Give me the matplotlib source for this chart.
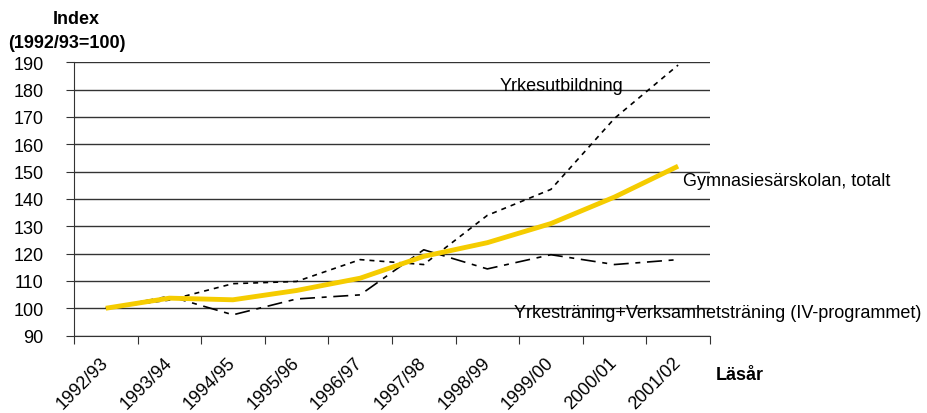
import matplotlib
matplotlib.use("Agg")
import matplotlib.pyplot as plt
from matplotlib.transforms import ScaledTranslation

plt.rcParams["font.family"] = ["Liberation Sans", "DejaVu Sans"]

years = ["1992/93", "1993/94", "1994/95", "1995/96", "1996/97",
         "1997/98", "1998/99", "1999/00", "2000/01", "2001/02"]
total = [100, 103.7, 103.1, 106.5, 111, 119, 124, 131, 140.7, 152]
yrkesutb = [100, 103, 109, 109.8, 117.8, 116, 134, 143.5, 169.5, 189]
iv_prog = [100, 104.4, 97.6, 103.4, 104.9, 121.4, 114.4, 119.6, 116, 117.8]

fig = plt.figure(figsize=(9.27, 4.14), dpi=100)
ax = fig.add_axes([0.0798, 0.187, 0.686, 0.66])

x = list(range(len(years)))
ax.plot(x, yrkesutb, color="black", lw=1.2, dashes=(3, 3))
ax.plot(x, iv_prog, color="black", lw=1.2, dashes=(9, 4, 3, 4))
ax.plot(x, total, color="#F5CC00", lw=3.5, solid_capstyle="butt")

ax.set_xlim(-0.5, len(years) - 0.5)
ax.set_ylim(90, 190)
ax.set_yticks(range(90, 191, 10))
ax.yaxis.grid(True, color="#333333", lw=1)
ax.set_axisbelow(True)
for s in ["top", "right"]:
    ax.spines[s].set_visible(False)
ax.spines["left"].set_color("#333333")
ax.spines["bottom"].set_color("#333333")

# tick marks between categories, labels at category centres
ax.set_xticks([i - 0.5 for i in range(len(years) + 1)], minor=False)
ax.set_xticklabels([])
ax.set_xticks(x, minor=True)
ax.set_xticklabels(years, minor=True, rotation=45, ha="right", va="center",
                   rotation_mode="anchor", fontsize=13)
offset = ScaledTranslation(7 / 100, 0, fig.dpi_scale_trans)
for lbl in ax.get_xticklabels(minor=True):
    lbl.set_transform(lbl.get_transform() + offset)
ax.tick_params(axis="x", which="minor", length=0, pad=17)
ax.tick_params(axis="x", which="major", length=6, color="#333333")
ax.tick_params(axis="y", length=6, color="#333333", labelsize=13, pad=16)

ax.text(6.2, 181.5, "Yrkesutbildning", fontsize=13, va="center", ha="left")
ax.text(9.07, 146.7, "Gymnasiesärskolan, totalt", fontsize=13,
        va="center", ha="left", clip_on=False)
ax.text(6.42, 98.3, "Yrkesträning+Verksamhetsträning (IV-programmet)",
        fontsize=13, va="center", ha="left", clip_on=False)

fig.text(0.082, 0.952, "Index", fontsize=13, fontweight="bold",
         ha="center", va="center")
fig.text(0.0723, 0.896, "(1992/93=100)", fontsize=13, fontweight="bold",
         ha="center", va="center")
fig.text(0.772, 0.092, "Läsår", fontsize=13, fontweight="bold",
         ha="left", va="center")

fig.savefig("out.png", dpi=100)
